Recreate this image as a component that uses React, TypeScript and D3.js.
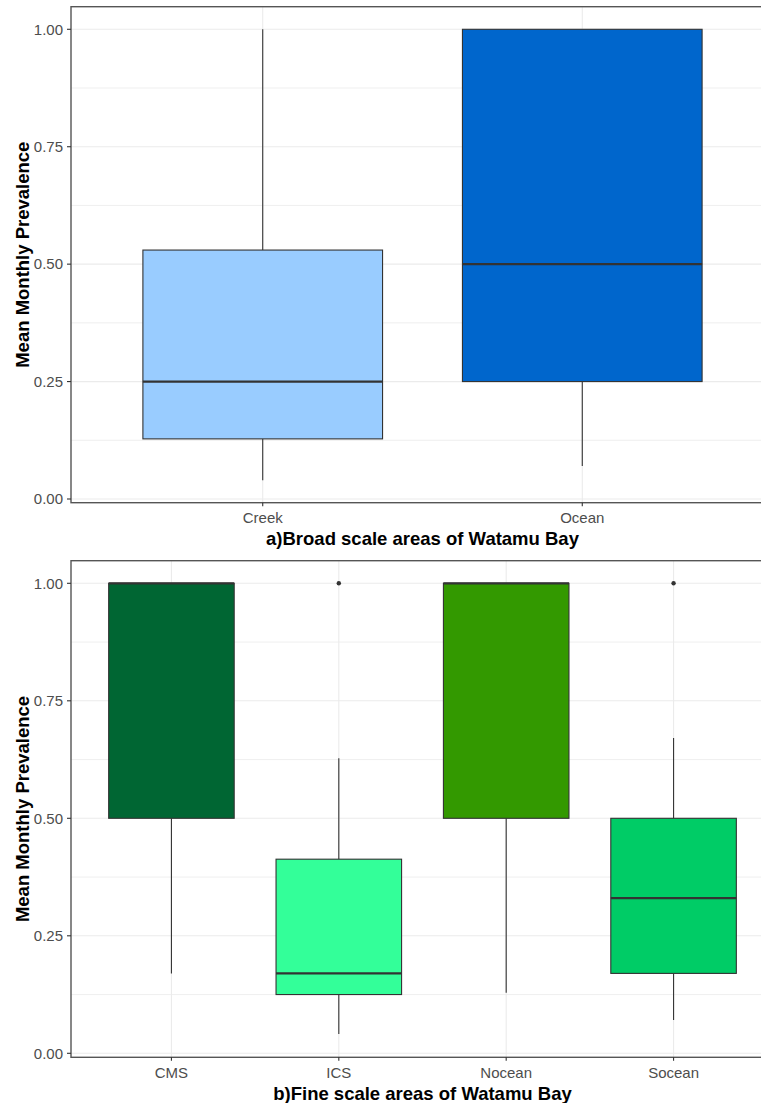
import React from 'react';
import * as d3 from 'd3';

// panel a) broad scale
const broadAreas = ['Creek', 'Ocean'];
const broadLow = [0.04, 0.07];
const broadQ1 = [0.128, 0.25];
const broadMedian = [0.25, 0.5];
const broadQ3 = [0.53, 1.0];
const broadHigh = [1.0, 1.0];
const broadOutliers: number[][] = [[], []];
const broadColors = ['#99CCFF', '#0066CC'];

// panel b) fine scale
const fineAreas = ['CMS', 'ICS', 'Nocean', 'Socean'];
const fineLow = [0.17, 0.041, 0.129, 0.071];
const fineQ1 = [0.5, 0.125, 0.5, 0.17];
const fineMedian = [1.0, 0.17, 1.0, 0.33];
const fineQ3 = [1.0, 0.413, 1.0, 0.5];
const fineHigh = [1.0, 0.628, 1.0, 0.671];
const fineOutliers: number[][] = [[], [1.0], [], [1.0]];
const fineColors = ['#006633', '#33FF99', '#339900', '#00CC66'];

const yTicks = [0, 0.25, 0.5, 0.75, 1];
const yMinor = [0.125, 0.375, 0.625, 0.875];

const font = '"Liberation Sans", Arial, sans-serif';

type PanelProps = {
  top: number;
  bottom: number;
  yAt0: number;
  yAt1: number;
  cats: string[];
  low: number[];
  q1: number[];
  med: number[];
  q3: number[];
  high: number[];
  outliers: number[][];
  colors: string[];
  title: string;
};

function Panel(p: PanelProps) {
  const left = 71;
  const right = 774;
  const x = d3.scalePoint<string>().domain(p.cats).range([left, right]).padding(0.6);
  const y = d3.scaleLinear().domain([0, 1]).range([p.yAt0, p.yAt1]);
  const bw = x.step() * 0.75;
  const mid = (p.top + p.bottom) / 2;

  return (
    <g>
      {/* grid */}
      {yMinor.map(t => (
        <line key={'m' + t} x1={left} x2={right} y1={y(t)} y2={y(t)} stroke="#EBEBEB" strokeWidth={0.8} />
      ))}
      {yTicks.map(t => (
        <line key={'M' + t} x1={left} x2={right} y1={y(t)} y2={y(t)} stroke="#EBEBEB" strokeWidth={1.1} />
      ))}
      {p.cats.map(c => (
        <line key={'v' + c} x1={x(c)} x2={x(c)} y1={p.top} y2={p.bottom} stroke="#EBEBEB" strokeWidth={1.1} />
      ))}

      {/* boxes */}
      {p.cats.map((c, i) => {
        const cx = x(c) as number;
        return (
          <g key={c}>
            <line x1={cx} x2={cx} y1={y(p.q3[i])} y2={y(p.high[i])} stroke="#333" strokeWidth={1.1} />
            <line x1={cx} x2={cx} y1={y(p.q1[i])} y2={y(p.low[i])} stroke="#333" strokeWidth={1.1} />
            <rect
              x={cx - bw / 2}
              y={y(p.q3[i])}
              width={bw}
              height={y(p.q1[i]) - y(p.q3[i])}
              fill={p.colors[i]}
              stroke="#333"
              strokeWidth={1.1}
            />
            <line x1={cx - bw / 2} x2={cx + bw / 2} y1={y(p.med[i])} y2={y(p.med[i])} stroke="#333" strokeWidth={2.2} />
            {p.outliers[i].map((o, k) => (
              <circle key={k} cx={cx} cy={y(o)} r={2.2} fill="#333" />
            ))}
          </g>
        );
      })}

      {/* border */}
      <rect x={left} y={p.top} width={right - left} height={p.bottom - p.top} fill="none" stroke="#555" strokeWidth={1.4} />

      {/* y axis */}
      {yTicks.map(t => (
        <g key={'yt' + t}>
          <line x1={67} x2={left} y1={y(t)} y2={y(t)} stroke="#333" strokeWidth={1.1} />
          <text x={63} y={y(t)} dy="0.35em" textAnchor="end" fontSize={15} fill="#4D4D4D" fontFamily={font}>
            {d3.format('.2f')(t)}
          </text>
        </g>
      ))}
      <text
        transform={`translate(28.5,${mid}) rotate(-90)`}
        textAnchor="middle"
        fontSize={18.5}
        fontWeight="bold"
        fontFamily={font}
        fill="#000"
      >
        Mean Monthly Prevalence
      </text>

      {/* x axis */}
      {p.cats.map(c => (
        <g key={'xt' + c}>
          <line x1={x(c)} x2={x(c)} y1={p.bottom} y2={p.bottom + 3.5} stroke="#333" strokeWidth={1.1} />
          <text x={x(c)} y={p.bottom + 20.5} textAnchor="middle" fontSize={15} fill="#4D4D4D" fontFamily={font}>
            {c}
          </text>
        </g>
      ))}
      <text
        x={(left + right) / 2}
        y={p.bottom + 42.5}
        textAnchor="middle"
        fontSize={18.5}
        fontWeight="bold"
        fontFamily={font}
        fill="#000"
      >
        {p.title}
      </text>
    </g>
  );
}

export default function App() {
  return (
    <svg
      width={761}
      height={1103}
      style={{ position: 'absolute', left: 0, top: 0, background: '#fff' }}
    >
      <rect width={761} height={1103} fill="#fff" />
      <Panel
        top={6.7}
        bottom={502.7}
        yAt0={499}
        yAt1={29.3}
        cats={broadAreas}
        low={broadLow}
        q1={broadQ1}
        med={broadMedian}
        q3={broadQ3}
        high={broadHigh}
        outliers={broadOutliers}
        colors={broadColors}
        title="a)Broad scale areas of Watamu Bay"
      />
      <Panel
        top={560.7}
        bottom={1057.3}
        yAt0={1053.3}
        yAt1={583.3}
        cats={fineAreas}
        low={fineLow}
        q1={fineQ1}
        med={fineMedian}
        q3={fineQ3}
        high={fineHigh}
        outliers={fineOutliers}
        colors={fineColors}
        title="b)Fine scale areas of Watamu Bay"
      />
    </svg>
  );
}
